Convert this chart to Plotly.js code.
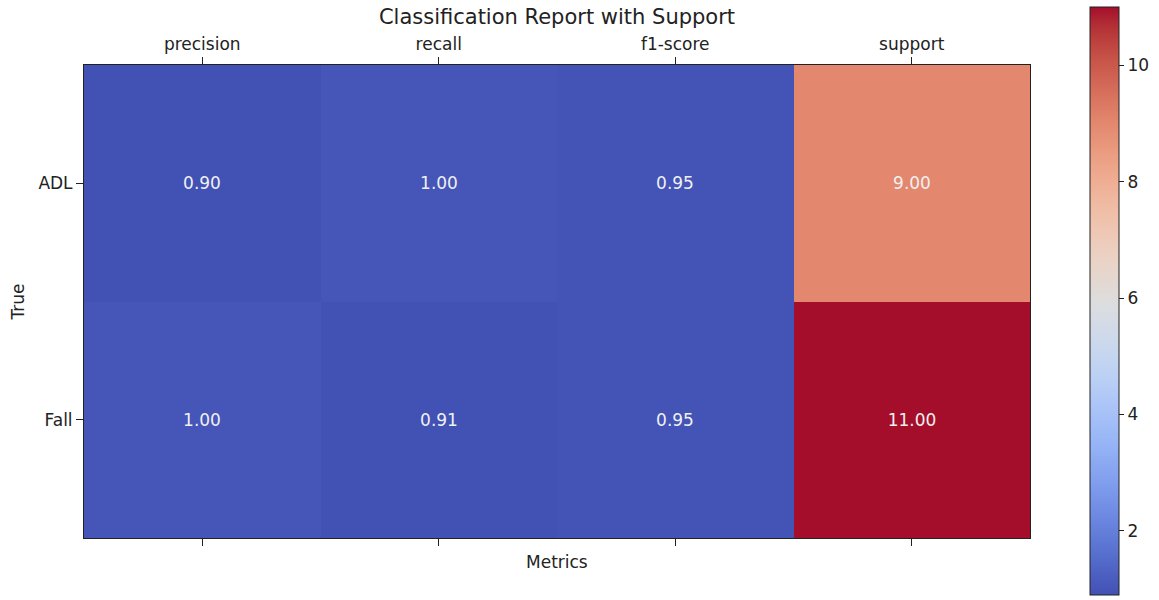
<!DOCTYPE html>
<html>
<head>
<meta charset="utf-8">
<script src="https://cdn.plot.ly/plotly-3.0.1.min.js"></script>
<style>html,body{margin:0;padding:0;background:#fff;}#chart{width:1159px;height:600px;}</style>
</head>
<body>
<div id="chart"></div>
<script>
const metrics = ["precision", "recall", "f1-score", "support"];
const classes = ["ADL", "Fall"];
const adlValues = [0.90, 1.00, 0.947, 9];
const fallValues = [1.00, 0.909, 0.952, 11];

const coolwarmTable = [
 [59,76,192],[68,90,204],[77,104,215],[87,117,225],[98,130,234],[108,142,241],[119,154,247],[130,165,251],
 [141,176,254],[152,185,255],[163,194,255],[174,201,253],[184,208,249],[194,213,244],[204,217,238],[213,219,230],
 [221,221,221],[229,216,209],[236,211,197],[241,204,185],[245,196,173],[247,187,160],[247,177,148],[247,166,135],
 [244,154,123],[241,141,111],[236,127,99],[229,112,88],[222,96,77],[213,80,66],[203,62,56],[192,40,47],[180,4,38]
];
// slight muting to match the reference rendering
const coolwarm = coolwarmTable.map((c, i) => {
  const m = (c[0] + c[1] + c[2]) / 3, k = 0.86;
  const r = Math.round(c[0] * k + m * (1 - k)), g = Math.round(c[1] * k + m * (1 - k)), b = Math.round(c[2] * k + m * (1 - k));
  return [i / (coolwarmTable.length - 1), `rgb(${r},${g},${b})`];
});

const W = 1159, H = 600;
// full plotting region (covers heatmap + colorbar) in pixels
const areaL = 84, areaR = 1139, areaT = 7, areaB = 595;
// heatmap box in pixels
const boxL = 84, boxR = 1030, boxT = 65, boxB = 538;
const areaW = areaR - areaL, areaH = areaB - areaT;
const font = {family: "DejaVu Sans", size: 17, color: "#222"};

const trace = {
  type: "heatmap",
  x: metrics,
  y: classes,
  z: [adlValues, fallValues],
  zmin: 0.9,
  zmax: 11,
  colorscale: coolwarm,
  texttemplate: "%{z:.2f}",
  textfont: {family: "DejaVu Sans", size: 17, color: "#f0f0f0"},
  hoverinfo: "skip",
  colorbar: {
    x: (1090 - areaL) / areaW, xanchor: "left",
    y: 0, yanchor: "bottom",
    lenmode: "fraction", len: 1,
    thicknessmode: "pixels", thickness: 29,
    outlinewidth: 1, outlinecolor: "#222",
    tickmode: "array", tickvals: [2, 4, 6, 8, 10],
    ticks: "outside", ticklen: 5, tickwidth: 1, tickcolor: "#222",
    tickfont: font,
    xpad: 0, ypad: 0
  }
};

const layout = {
  width: W, height: H,
  margin: {l: areaL, r: W - areaR, t: areaT, b: H - areaB},
  paper_bgcolor: "#fff", plot_bgcolor: "#fff",
  font: font,
  title: {text: "Classification Report with Support", font: {family: "DejaVu Sans", size: 21, color: "#222"},
          xref: "container", x: ((boxL + boxR) / 2) / W, xanchor: "center", yref: "container", y: 1 - 17 / H, yanchor: "middle"},
  xaxis: {
    domain: [(boxL - areaL) / areaW, (boxR - areaL) / areaW],
    side: "top", type: "category", automargin: false,
    showline: true, linecolor: "#222", linewidth: 1, mirror: "ticks",
    ticks: "outside", ticklen: 7, tickcolor: "#222",
    tickfont: font, showgrid: false, zeroline: false, fixedrange: true
  },
  yaxis: {
    domain: [(areaB - boxB) / areaH, (areaB - boxT) / areaH],
    type: "category", autorange: "reversed", automargin: false,
    showline: true, linecolor: "#222", linewidth: 1, mirror: true,
    ticks: "outside", ticklen: 7, tickcolor: "#222",
    tickfont: font, showgrid: false, zeroline: false, fixedrange: true,
    title: {text: "True", font: font, standoff: 9}
  },
  annotations: [{
    text: "Metrics", xref: "x domain", yref: "y domain", x: 0.5, y: 0,
    yshift: -12, yanchor: "top", xanchor: "center", showarrow: false, font: font
  }]
};

Plotly.newPlot("chart", [trace], layout, {displayModeBar: false, staticPlot: true});
</script>
</body>
</html>
